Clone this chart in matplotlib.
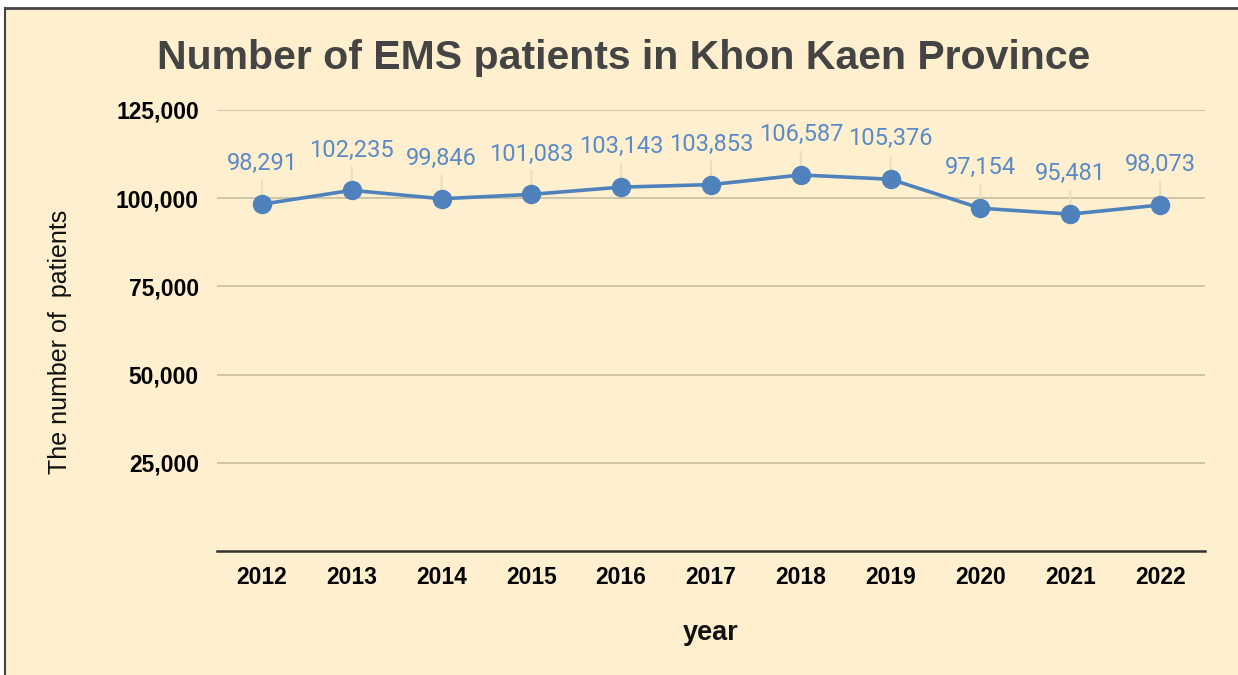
import matplotlib
matplotlib.use("Agg")
import matplotlib.pyplot as plt
from matplotlib.patches import Rectangle
from matplotlib.lines import Line2D

years = ["2012", "2013", "2014", "2015", "2016", "2017", "2018", "2019", "2020", "2021", "2022"]
patients = [98291, 102235, 99846, 101083, 103143, 103853, 106587, 105376, 97154, 95481, 98073]
yticks = [25000, 50000, 75000, 100000, 125000]
ytick_labels = ["25,000", "50,000", "75,000", "100,000", "125,000"]

BG = "#FEF0CE"
LINE = "#4F81BD"
LABEL = "#5B8AC6"
GRID = "#CBC2A3"
LEADER = "#EADFB8"

W, H = 1238, 675
fig = plt.figure(figsize=(W / 100, H / 100), dpi=100)
fig.patch.set_facecolor("white")

# cream panel with dark top/left border
fig.patches.append(Rectangle((5 / W, -0.1), 1.2, 1.1 - 8 / H, transform=fig.transFigure,
                             facecolor=BG, edgecolor="none", zorder=-5))
fig.lines.append(Line2D([5 / W, 1.01], [1 - 8 / H, 1 - 8 / H], transform=fig.transFigure,
                        color="#444444", lw=2, zorder=-4))
fig.lines.append(Line2D([5 / W, 5 / W], [-0.01, 1 - 8 / H], transform=fig.transFigure,
                        color="#444444", lw=1.5, zorder=-4))

ax = fig.add_axes([217 / W, 124 / H, 988 / W, 441 / H])
ax.set_facecolor("none")
ax.set_zorder(1)

x = list(range(len(years)))
ax.plot(x, patients, color=LINE, lw=2.6, marker="o", markersize=13, zorder=4, clip_on=False)

for xi, v in zip(x, patients):
    ax.annotate(f"{v:,}", xy=(xi, v), xytext=(0, 29), textcoords="offset points",
                ha="center", va="center", color=LABEL, fontsize=17, family="Roboto",
                arrowprops=dict(arrowstyle="-", color=LEADER, lw=1.5, shrinkA=2, shrinkB=0),
                zorder=2)

ax.set_xlim(-0.5, len(years) - 0.5)
ax.set_ylim(0, 125000)
ax.set_xticks(x)
ax.set_xticklabels(years, fontsize=16.5, fontweight="bold", family="Liberation Sans")
ax.set_yticks(yticks)
ax.set_yticklabels(ytick_labels, fontsize=16.5, fontweight="bold", family="Liberation Sans")
ax.tick_params(axis="both", length=0)
ax.tick_params(axis="x", pad=11)
ax.tick_params(axis="y", pad=13)

ax.grid(axis="y", color=GRID, lw=1.3, zorder=1)
ax.set_axisbelow(True)
for s in ["top", "right", "left"]:
    ax.spines[s].set_visible(False)
ax.spines["bottom"].set_color("#333333")
ax.spines["bottom"].set_linewidth(1.8)

fig.text(624 / W, 1 - 58 / H, "Number of EMS patients in Khon Kaen Province",
         ha="center", va="center", fontsize=29.5, fontweight="bold", color="#444444",
         family="Liberation Sans")
fig.text(711 / W, 1 - 633 / H, "year", ha="center", va="center", fontsize=19.5,
         fontweight="bold", color="#111111", family="Liberation Sans")
fig.text(60 / W, 1 - 342 / H, "The number of  patients", ha="center", va="center",
         rotation=90, fontsize=18, color="#111111", family="Liberation Sans")

fig.savefig("out.png", dpi=100)
